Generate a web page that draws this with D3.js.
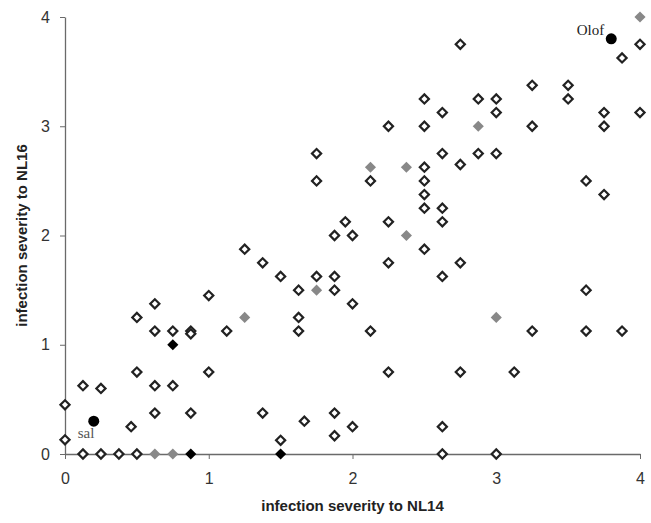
<!DOCTYPE html>
<html>
<head>
<meta charset="utf-8">
<script src="https://cdn.jsdelivr.net/npm/d3@7"></script>
<style>
body{margin:0;background:#fff;}
svg{display:block;}
</style>
</head>
<body>
<svg id="chart" width="651" height="523"></svg>
<script>
// Open diamonds: [NL14, NL16]
const openPoints = [
  [0,0.45],[0,0.13],
  [0.125,0],[0.25,0],[0.375,0],[0.5,0],[2.625,0],[3.0,0],
  [0.125,0.625],[0.25,0.6],[0.5,0.75],[0.625,0.625],[0.75,0.625],[1.0,0.75],
  [0.46,0.25],[0.625,0.375],[0.875,0.375],
  [1.375,0.375],[1.665,0.3],[1.875,0.375],[2.0,0.25],[1.5,0.125],[1.875,0.167],
  [2.25,0.75],[2.75,0.75],[3.125,0.75],[2.625,0.25],
  [0.5,1.25],[0.625,1.375],[1.0,1.45],[0.625,1.125],[0.75,1.125],[0.875,1.125],[0.875,1.1],[1.125,1.125],
  [1.75,2.5],[2.125,2.5],[1.95,2.125],[1.875,2.0],[2.0,2.0],[2.25,2.125],[2.25,1.75],
  [1.25,1.875],[1.375,1.75],[1.5,1.625],[1.75,1.625],[1.875,1.625],[1.625,1.5],[1.875,1.5],
  [2.0,1.375],[1.625,1.25],[1.625,1.125],[2.125,1.125],
  [2.5,2.5],[2.5,2.375],[2.5,2.25],[2.625,2.25],[2.625,2.125],[2.5,1.875],[2.75,1.75],[2.625,1.625],
  [3.625,2.5],[3.75,2.375],[3.625,1.5],[3.25,1.125],[3.625,1.125],[3.875,1.125],
  [2.75,3.75],[4.0,3.75],[3.875,3.625],[3.25,3.375],[3.5,3.375],[3.5,3.25],
  [2.5,3.25],[2.875,3.25],[3.0,3.25],[2.625,3.125],[3.0,3.125],[3.75,3.125],[4.0,3.125],
  [2.5,3.0],[3.25,3.0],[3.75,3.0],[2.625,2.75],[2.875,2.75],[3.0,2.75],[2.75,2.65],
  [2.5,2.625],[2.25,3.0],[1.75,2.75]
];
// Gray filled diamonds
const grayPoints = [
  [0.625,0],[0.75,0],[1.25,1.25],[1.75,1.5],[2.125,2.625],[2.375,2.625],
  [2.375,2.0],[2.875,3.0],[3.0,1.25],[4.0,4.0]
];
// Black filled diamonds
const blackPoints = [[0.875,0],[0.75,1.0],[1.5,0]];
// Labelled black circles
const namedPoints = [
  {name:"sal", x:0.2, y:0.3},
  {name:"Olof", x:3.8, y:3.8}
];
const xTicks = [0,1,2,3,4];
const yTicks = [0,1,2,3,4];
const xTitle = "infection severity to NL14";
const yTitle = "infection severity to NL16";

const svg = d3.select("#chart");
const mLeft = 65, mRight = 640, mTop = 17, mBottom = 454;
const x = d3.scaleLinear().domain([0,4]).range([mLeft,mRight]);
const y = d3.scaleLinear().domain([0,4]).range([mBottom,mTop]);

const axisColor = "#6a6a6a";
const xAxis = svg.append("g").attr("transform",`translate(0,${mBottom})`)
  .call(d3.axisBottom(x).tickValues(xTicks).tickSize(5).tickSizeOuter(0).tickPadding(14).tickFormat(d3.format("d")));
const yAxis = svg.append("g").attr("transform",`translate(${mLeft},0)`)
  .call(d3.axisLeft(y).tickValues(yTicks).tickSize(5).tickSizeOuter(0).tickPadding(10).tickFormat(d3.format("d")));
[xAxis,yAxis].forEach(g=>{
  g.select(".domain").attr("stroke",axisColor).attr("stroke-width",1.3);
  g.selectAll(".tick line").attr("stroke",axisColor).attr("stroke-width",1);
  g.selectAll(".tick text").attr("fill","#333").style("font-family","Liberation Sans, Arial, sans-serif").style("font-size","16px");
});

const sq = (s)=>d3.symbol().type(d3.symbolSquare).size(s)();
svg.append("g").selectAll("path").data(openPoints).join("path")
  .attr("d", sq(42))
  .attr("transform", d=>`translate(${x(d[0])},${y(d[1])}) rotate(45)`)
  .attr("fill","#fff").attr("stroke","#222").attr("stroke-width",2.2);
svg.append("g").selectAll("path").data(grayPoints).join("path")
  .attr("d", sq(62))
  .attr("transform", d=>`translate(${x(d[0])},${y(d[1])}) rotate(45)`)
  .attr("fill","#888");
svg.append("g").selectAll("path").data(blackPoints).join("path")
  .attr("d", sq(62))
  .attr("transform", d=>`translate(${x(d[0])},${y(d[1])}) rotate(45)`)
  .attr("fill","#000");
svg.append("g").selectAll("circle").data(namedPoints).join("circle")
  .attr("cx", d=>x(d.x)).attr("cy", d=>y(d.y)).attr("r",5.5).attr("fill","#000");
svg.append("text").text(namedPoints[0].name)
  .attr("x", x(namedPoints[0].x)-16).attr("y", y(namedPoints[0].y)+17)
  .attr("fill","#555").style("font-family","Liberation Serif, Times New Roman, serif").style("font-size","15px");
svg.append("text").text(namedPoints[1].name)
  .attr("x", x(namedPoints[1].x)-7).attr("y", y(namedPoints[1].y)-4)
  .attr("text-anchor","end")
  .attr("fill","#222").style("font-family","Liberation Serif, Times New Roman, serif").style("font-size","15px");

svg.append("text").text(xTitle)
  .attr("x", (mLeft+mRight)/2).attr("y", 511).attr("text-anchor","middle")
  .attr("fill","#222").style("font-family","Liberation Sans, Arial, sans-serif").style("font-size","15px").style("font-weight","bold");
svg.append("text").text(yTitle)
  .attr("transform", `translate(27,${(mTop+mBottom)/2}) rotate(-90)`).attr("text-anchor","middle")
  .attr("fill","#222").style("font-family","Liberation Sans, Arial, sans-serif").style("font-size","15px").style("font-weight","bold");
</script>
</body>
</html>
